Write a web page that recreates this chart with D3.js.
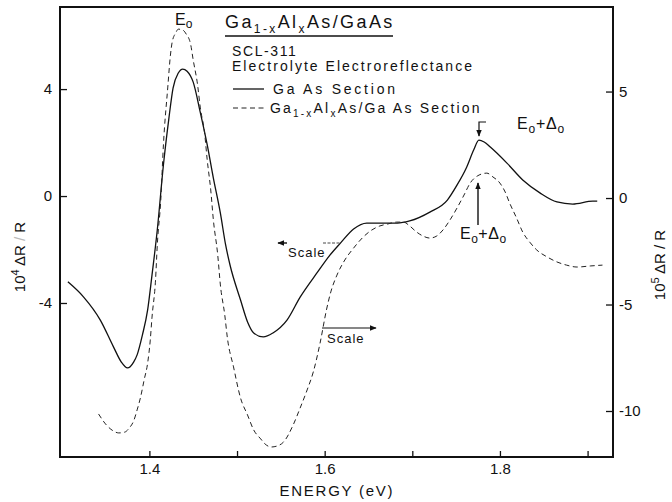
<!DOCTYPE html>
<html>
<head>
<meta charset="utf-8">
<script src="https://cdn.jsdelivr.net/npm/d3@7"></script>
<style>
body { margin: 0; background: #fff; }
svg text { font-family: "Liberation Sans", Arial, sans-serif; fill: #111; }
</style>
</head>
<body>
<script>
// GaAs section (solid line), left scale: 10^4 dR/R
var gaAsEnergy = [1.307, 1.325, 1.344, 1.359, 1.368, 1.375, 1.382, 1.386, 1.392, 1.398, 1.403, 1.409, 1.416, 1.422,
    1.427, 1.433, 1.438, 1.443, 1.450, 1.458, 1.466, 1.473, 1.481, 1.487, 1.492, 1.504, 1.512, 1.519, 1.530, 1.541,
    1.557, 1.572, 1.592, 1.606, 1.618, 1.633, 1.648, 1.663, 1.683, 1.697, 1.720, 1.740, 1.751, 1.762, 1.770, 1.776,
    1.782, 1.789, 1.808, 1.826, 1.846, 1.865, 1.883, 1.906, 1.911];
var gaAsValue = [-3.21, -3.78, -4.64, -5.64, -6.21, -6.43, -6.21, -5.94, -5.20, -4.26, -2.95, -1.27, 1.16, 2.84,
    4.04, 4.60, 4.75, 4.67, 4.26, 3.14, 1.91, 0.67, -0.64, -1.83, -2.58, -3.89, -4.71, -5.12, -5.27, -5.12,
    -4.64, -3.78, -2.84, -2.21, -1.76, -1.23, -1.01, -1.01, -1.01, -0.93, -0.60, -0.15, 0.41, 1.08, 1.72, 2.09,
    2.02, 1.83, 1.23, 0.60, 0.11, -0.22, -0.30, -0.19, -0.19];

// Ga1-xAlxAs/GaAs section (dashed line), right scale: 10^5 dR/R
var alEnergy = [1.342, 1.351, 1.359, 1.365, 1.372, 1.377, 1.382, 1.386, 1.390, 1.394, 1.398, 1.401, 1.403, 1.407,
    1.409, 1.413, 1.416, 1.421, 1.424, 1.426, 1.430, 1.433, 1.438, 1.442, 1.447, 1.450, 1.455, 1.458, 1.463, 1.466,
    1.470, 1.473, 1.478, 1.481, 1.486, 1.489, 1.496, 1.504, 1.512, 1.519, 1.527, 1.532, 1.539, 1.546, 1.553, 1.564,
    1.572, 1.580, 1.587, 1.595, 1.602, 1.607, 1.614, 1.623, 1.633, 1.644, 1.652, 1.663, 1.672, 1.682, 1.690, 1.697,
    1.705, 1.712, 1.720, 1.728, 1.735, 1.743, 1.751, 1.759, 1.766, 1.774, 1.785, 1.792, 1.800, 1.806, 1.811, 1.819,
    1.826, 1.834, 1.842, 1.854, 1.865, 1.876, 1.888, 1.903, 1.917];
var alValue = [-10.14, -10.66, -10.94, -11.03, -10.99, -10.80, -10.47, -9.95, -9.34, -8.54, -7.75, -6.67, -5.59, -3.85,
    -2.21, -0.09, 2.49, 5.21, 6.71, 7.32, 7.75, 7.93, 7.89, 7.70, 7.23, 6.48, 5.31, 4.27, 3.05, 1.78,
    0.38, -1.03, -2.68, -4.08, -5.49, -6.57, -7.93, -9.39, -10.19, -10.89, -11.31, -11.55, -11.69, -11.64, -11.46, -10.66,
    -9.86, -9.01, -8.17, -6.76, -5.26, -4.41, -3.62, -2.91, -2.35, -1.83, -1.55, -1.31, -1.22, -1.13, -1.13, -1.31,
    -1.60, -1.78, -1.88, -1.78, -1.50, -1.03, -0.47, 0.14, 0.70, 1.03, 1.17, 0.99, 0.70, 0.28, -0.23, -0.94,
    -1.60, -2.07, -2.44, -2.77, -3.00, -3.15, -3.24, -3.19, -3.15];

var leftTicks = [4, 0, -4];
var rightTicks = [5, 0, -5, -10];
var energyTicks = [1.4, 1.5, 1.6, 1.7, 1.8, 1.9];
var energyLabels = [1.4, 1.6, 1.8];

var width = 672;
var height = 502;

let svg = d3.select("body").append("svg")
    .attr("width", width)
    .attr("height", height);

var x = d3.scaleLinear().domain([1.298, 1.929]).range([60, 613]);
var yLeft = d3.scaleLinear().domain([-9.76, 7.07]).range([457, 7]);
var yRight = d3.scaleLinear().domain([-12.16, 8.97]).range([457, 7]);

// arrow heads
var defs = svg.append("defs");
defs.append("marker")
    .attr("id", "head")
    .attr("viewBox", "0 0 10 10")
    .attr("refX", 9).attr("refY", 5)
    .attr("markerWidth", 7).attr("markerHeight", 7)
    .attr("markerUnits", "userSpaceOnUse")
    .attr("orient", "auto")
    .append("path")
    .attr("d", "M0,1 L10,5 L0,9 Z")
    .attr("fill", "#111");

// axes (ticks point inward)
svg.append("g")
    .attr("transform", "translate(60,0)")
    .call(d3.axisLeft(yLeft).tickValues(leftTicks).tickSize(-7).tickPadding(8).tickFormat(d => String(d)))
    .call(g => g.select(".domain").remove());

svg.append("g")
    .attr("transform", "translate(613,0)")
    .call(d3.axisRight(yRight).tickValues(rightTicks).tickSize(-7).tickPadding(6).tickFormat(d => String(d)))
    .call(g => g.select(".domain").remove());

svg.append("g")
    .attr("transform", "translate(0,457)")
    .call(d3.axisBottom(x).tickValues(energyTicks).tickSize(-6).tickPadding(6)
        .tickFormat(d => energyLabels.indexOf(d) >= 0 ? d3.format(".1f")(d) : ""))
    .call(g => g.select(".domain").remove());

svg.selectAll(".tick line").attr("stroke", "#111").attr("stroke-width", 1.3);
svg.selectAll(".tick text").attr("font-size", 15).attr("fill", "#111")
    .attr("font-family", "Liberation Sans, Arial, sans-serif");

// frame
svg.append("rect")
    .attr("x", 60).attr("y", 7)
    .attr("width", 553).attr("height", 450)
    .attr("fill", "none")
    .attr("stroke", "#111")
    .attr("stroke-width", 2);

// curves
var solidLine = d3.line()
    .x(d => x(d[0]))
    .y(d => yLeft(d[1]))
    .curve(d3.curveMonotoneX);

var dashedLine = d3.line()
    .x(d => x(d[0]))
    .y(d => yRight(d[1]))
    .curve(d3.curveMonotoneX);

svg.append("path")
    .datum(d3.zip(gaAsEnergy, gaAsValue))
    .attr("d", solidLine)
    .attr("fill", "none")
    .attr("stroke", "#111")
    .attr("stroke-width", 1.3);

svg.append("path")
    .datum(d3.zip(alEnergy, alValue))
    .attr("d", dashedLine)
    .attr("fill", "none")
    .attr("stroke", "#222")
    .attr("stroke-width", 1)
    .attr("stroke-dasharray", "5,3.5");

// axis titles
svg.append("text")
    .attr("x", 336).attr("y", 496)
    .attr("text-anchor", "middle")
    .attr("font-size", 15)
    .attr("textLength", 113)
    .text("ENERGY (eV)");

var lt = svg.append("text")
    .attr("transform", "translate(25,257) rotate(-90)")
    .attr("text-anchor", "middle")
    .attr("font-size", 15);
lt.append("tspan").text("10");
lt.append("tspan").attr("dy", -6).attr("font-size", 11).text("4");
lt.append("tspan").attr("dy", 6).text(" ΔR");
lt.append("tspan").attr("fill", "#bbb").text(" / ");
lt.append("tspan").text("R");

var rt = svg.append("text")
    .attr("transform", "translate(665,265) rotate(-90)")
    .attr("text-anchor", "middle")
    .attr("font-size", 15);
rt.append("tspan").text("10");
rt.append("tspan").attr("dy", -6).attr("font-size", 11).text("5");
rt.append("tspan").attr("dy", 6).text(" ΔR / R");

// E0 label on the main peak
var e0 = svg.append("text").attr("x", 175).attr("y", 25).attr("font-size", 16);
e0.append("tspan").text("E");
e0.append("tspan").attr("dy", 3).attr("font-size", 12).text("o");

// title block
var title = svg.append("text").attr("x", 225).attr("y", 28).attr("font-size", 18)
    .attr("letter-spacing", 2.4);
title.append("tspan").text("Ga");
title.append("tspan").attr("dy", 5).attr("font-size", 12).text("1-x");
title.append("tspan").attr("dy", -5).text("Al");
title.append("tspan").attr("dy", 5).attr("font-size", 12).text("x");
title.append("tspan").attr("dy", -5).text("As/GaAs");

svg.append("line")
    .attr("x1", 225).attr("x2", 393)
    .attr("y1", 36).attr("y2", 36)
    .attr("stroke", "#111").attr("stroke-width", 1.3);

svg.append("text").attr("x", 232).attr("y", 56).attr("font-size", 14)
    .attr("letter-spacing", 1.6).text("SCL-311");
svg.append("text").attr("x", 232).attr("y", 71).attr("font-size", 14)
    .attr("textLength", 240).text("Electrolyte Electroreflectance");

// legend
svg.append("line")
    .attr("x1", 233).attr("x2", 264).attr("y1", 89).attr("y2", 89)
    .attr("stroke", "#111").attr("stroke-width", 1.3);
svg.append("text").attr("x", 273).attr("y", 94).attr("font-size", 14)
    .attr("textLength", 122).text("Ga As Section");

svg.append("line")
    .attr("x1", 233).attr("x2", 265).attr("y1", 108).attr("y2", 108)
    .attr("stroke", "#222").attr("stroke-width", 1)
    .attr("stroke-dasharray", "5,3.5");
var leg2 = svg.append("text").attr("x", 270).attr("y", 113).attr("font-size", 14)
    .attr("letter-spacing", 2.2);
leg2.append("tspan").text("Ga");
leg2.append("tspan").attr("dy", 4).attr("font-size", 10).text("1-x");
leg2.append("tspan").attr("dy", -4).text("Al");
leg2.append("tspan").attr("dy", 4).attr("font-size", 10).text("x");
leg2.append("tspan").attr("dy", -4).text("As/Ga As Section");

// E0 + Delta0 labels and arrows
var upper = svg.append("text").attr("x", 517).attr("y", 129).attr("font-size", 16)
    .attr("letter-spacing", 0.8);
upper.append("tspan").text("E");
upper.append("tspan").attr("dy", 4).attr("font-size", 12).text("o");
upper.append("tspan").attr("dy", -4).text("+Δ");
upper.append("tspan").attr("dy", 4).attr("font-size", 12).text("o");

svg.append("path")
    .attr("d", "M486,122 L479,122 L479,136")
    .attr("fill", "none").attr("stroke", "#111").attr("stroke-width", 1.2)
    .attr("marker-end", "url(#head)");

var lower = svg.append("text").attr("x", 460).attr("y", 239).attr("font-size", 16)
    .attr("letter-spacing", 0.5);
lower.append("tspan").text("E");
lower.append("tspan").attr("dy", 4).attr("font-size", 12).text("o");
lower.append("tspan").attr("dy", -4).text("+Δ");
lower.append("tspan").attr("dy", 4).attr("font-size", 12).text("o");

svg.append("line")
    .attr("x1", 478).attr("x2", 478).attr("y1", 225).attr("y2", 183)
    .attr("stroke", "#111").attr("stroke-width", 1.4)
    .attr("marker-end", "url(#head)");

// "Scale" markers
svg.append("line")
    .attr("x1", 287).attr("x2", 278).attr("y1", 243).attr("y2", 243)
    .attr("stroke", "#111").attr("stroke-width", 1.4)
    .attr("marker-end", "url(#head)");
svg.append("line")
    .attr("x1", 323).attr("x2", 341).attr("y1", 243).attr("y2", 243)
    .attr("stroke", "#333").attr("stroke-width", 0.9)
    .attr("stroke-dasharray", "3,1.5");
svg.append("text").attr("x", 288).attr("y", 257).attr("font-size", 13)
    .attr("letter-spacing", 1).text("Scale");

svg.append("line")
    .attr("x1", 322).attr("x2", 376).attr("y1", 328).attr("y2", 328)
    .attr("stroke", "#111").attr("stroke-width", 1.1)
    .attr("marker-end", "url(#head)");
svg.append("text").attr("x", 327).attr("y", 343).attr("font-size", 13)
    .attr("letter-spacing", 1).text("Scale");
</script>
</body>
</html>
